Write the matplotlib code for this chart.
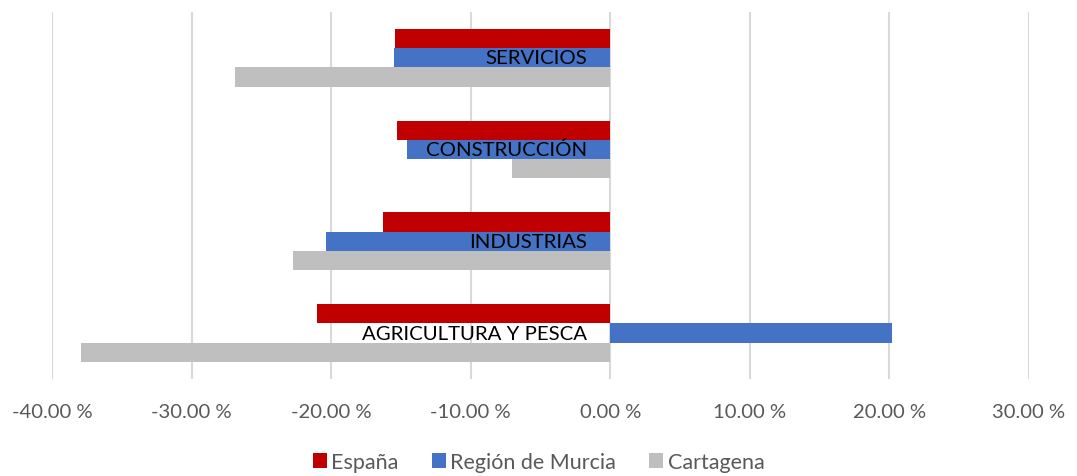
import matplotlib
import matplotlib.pyplot as plt
import numpy as np
from matplotlib.ticker import FuncFormatter
matplotlib.use('Agg')

# Variation by sector (%)
sectors = ['SERVICIOS', 'CONSTRUCCIÓN', 'INDUSTRIAS', 'AGRICULTURA Y PESCA']
espana = [-15.4, -15.3, -16.3, -21.0]
murcia = [-15.5, -14.6, -20.4, 20.2]
cartagena = [-26.9, -7.05, -22.7, -37.9]
series_names = ['España', 'Región de Murcia', 'Cartagena']
xticks = [-40, -30, -20, -10, 0, 10, 20, 30]

colors = ['#C00000', '#4472C4', '#BFBFBF']

plt.rcParams['font.family'] = ['Lato', 'DejaVu Sans']

fig = plt.figure(figsize=(10.77, 4.77), dpi=100)
ax = fig.add_axes([52 / 1077, 1 - 380 / 477, (1029 - 52) / 1077, (380 - 12.7) / 477])

y = np.arange(len(sectors))
h = 0.21
for k, (vals, name) in enumerate(zip([espana, murcia, cartagena], series_names)):
    ax.barh(y + (k - 1) * h, vals, height=h, color=colors[k], label=name, zorder=2)

# category labels sit just left of the zero line, centred on the middle bar
for i, s in enumerate(sectors):
    ax.annotate(s, xy=(0, i), xytext=(-16.5, 0), textcoords='offset points',
                ha='right', va='center', fontsize=14.7, color='black', zorder=4)

ax.set_xlim(-40, 30)
ax.set_ylim(len(sectors) - 0.5, -0.5)
ax.set_xticks(xticks)
ax.xaxis.set_major_formatter(FuncFormatter(lambda v, p: f'{v:.2f} %'))
ax.set_yticks([])
ax.tick_params(axis='x', length=0, pad=17, labelsize=14.6, labelcolor='#595959')
ax.grid(axis='x', color='#D9D9D9', linewidth=1.5, zorder=0)
ax.set_axisbelow(True)
for sp in ax.spines.values():
    sp.set_visible(False)

fig.legend(loc='center', bbox_to_anchor=(0.5, 1 - 463 / 477), ncol=3, frameon=False,
           fontsize=15.5, labelcolor='#595959', handlelength=0.65, handleheight=0.65,
           handletextpad=0.2, columnspacing=1.55)

fig.savefig('out.png', dpi=100)
